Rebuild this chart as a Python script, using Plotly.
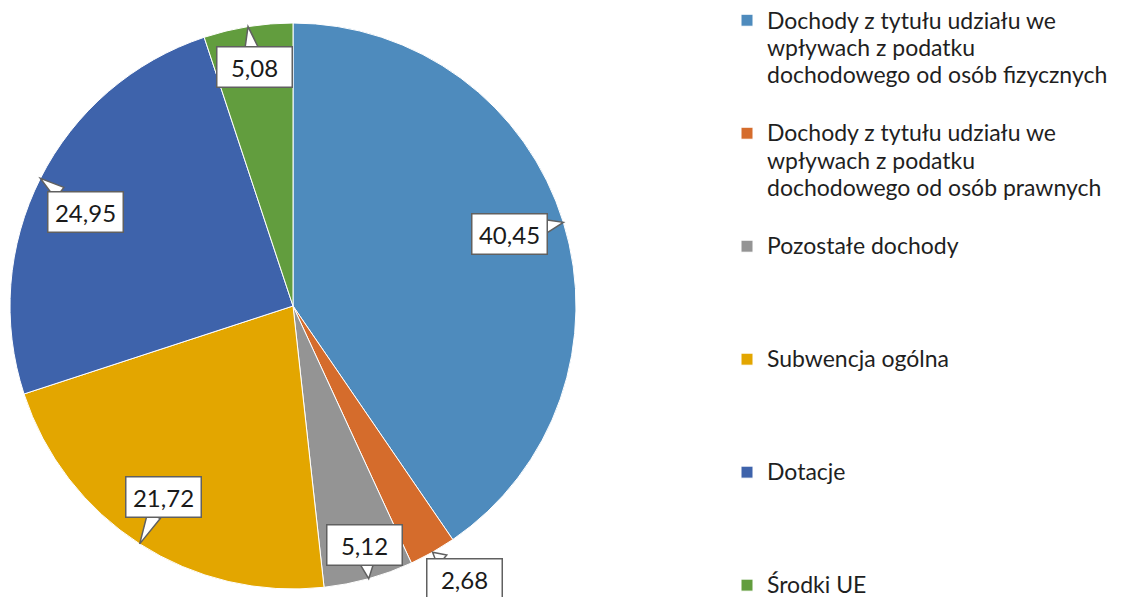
import math
import plotly.graph_objects as go

# ---- data ----
categories = [
    "Dochody z tytułu udziału we<br>wpływach z podatku<br>dochodowego od osób fizycznych",
    "Dochody z tytułu udziału we<br>wpływach z podatku<br>dochodowego od osób prawnych",
    "Pozostałe dochody",
    "Subwencja ogólna",
    "Dotacje",
    "Środki UE",
]
values = [40.45, 2.68, 5.12, 21.72, 24.95, 5.08]
value_labels = ["40,45", "2,68", "5,12", "21,72", "24,95", "5,08"]

# ---- style ----
colors = ["#4E8BBD", "#D56C2C", "#949494", "#E3A600", "#3E63AB", "#629D3E"]
label_radius = [0.806, 1.141, 0.883, 0.816, 0.806, 0.855]  # callout box distance (fraction of radius)
label_angle_shift = [-1.2, -2.6, -1.2, 1.4, -2.5, 0.0]     # degrees, callout box offset from mid-angle

W, H = 1133, 597
cx, cy, R = 293, 306, 283  # pie centre / radius in pixels
BOX_HW, BOX_HH = 38.5, 21  # half size of callout boxes (px)
TAIL_HALF = 7              # half width of callout tail base (px)
FONT = "Lato"


def to_paper(px, py):
    return px / W, 1 - py / H


# pad legend entries to 4 lines so that entries are evenly spaced (last one needs no padding)
legend_names = []
for i, c in enumerate(categories):
    n = c.count("<br>") + 1
    pad = 0 if i == len(categories) - 1 else 4 - n
    legend_names.append('<span style="font-size:23px">' + c + "</span>" + "<br> " * pad)

fig = go.Figure()
fig.add_trace(go.Pie(
    labels=legend_names,
    values=values,
    sort=False,
    direction="clockwise",
    rotation=0,
    textinfo="none",
    marker=dict(colors=colors, line=dict(color="white", width=1)),
    domain=dict(x=[(cx - R) / W, (cx + R) / W], y=[1 - (cy + R) / H, 1 - (cy - R) / H]),
    hovertemplate="%{value}<extra></extra>",
))

# callout labels, positioned from the slice mid-angles
total = sum(values)
cum = 0.0
annotations = []
shapes = []
for v, txt, rb, da in zip(values, value_labels, label_radius, label_angle_shift):
    mid = (cum + v / 2) / total * 2 * math.pi
    cum += v
    tipx = cx + R * math.sin(mid)
    tipy = cy - R * math.cos(mid)
    ang = mid + math.radians(da)
    bx = cx + rb * R * math.sin(ang)
    by = cy - rb * R * math.cos(ang)

    # tail triangle from the box towards the slice edge
    dx, dy = tipx - bx, tipy - by
    d = math.hypot(dx, dy)
    ux, uy = dx / d, dy / d
    t_edge = min(BOX_HW / abs(ux) if ux else 1e9, BOX_HH / abs(uy) if uy else 1e9) - 3
    px_, py_ = -uy, ux
    b1 = (bx + ux * t_edge + px_ * TAIL_HALF, by + uy * t_edge + py_ * TAIL_HALF)
    b2 = (bx + ux * t_edge - px_ * TAIL_HALF, by + uy * t_edge - py_ * TAIL_HALF)
    pts = [to_paper(*b1), to_paper(tipx, tipy), to_paper(*b2)]
    path = "M {:.5f},{:.5f} L {:.5f},{:.5f} L {:.5f},{:.5f} Z".format(*pts[0], *pts[1], *pts[2])
    shapes.append(dict(type="path", path=path, xref="paper", yref="paper",
                       fillcolor="white", line=dict(color="#606060", width=1.5), layer="above"))

    ax_, ay_ = to_paper(bx, by)
    annotations.append(dict(
        x=ax_, y=ay_, xref="paper", yref="paper", xanchor="center", yanchor="middle",
        text=txt, showarrow=False,
        font=dict(family=FONT, size=24, color="#1a1a1a"),
        bgcolor="white", bordercolor="#606060", borderwidth=1.5,
        width=66, height=31, borderpad=4,
    ))

fig.update_layout(
    width=W, height=H,
    margin=dict(l=0, r=0, t=0, b=0),
    paper_bgcolor="white",
    plot_bgcolor="white",
    annotations=annotations,
    shapes=shapes,
    showlegend=True,
    legend=dict(
        x=727 / W, xanchor="left", y=1 - 4 / H, yanchor="top",
        valign="top",
        maxheight=700,
        font=dict(family=FONT, size=21.15, color="#1f1f1f"),
        bgcolor="rgba(0,0,0,0)",
        traceorder="normal",
    ),
)

fig.write_html(
    "out.html",
    config={"displayModeBar": False},
    post_script="document.body.style.margin='0';document.body.style.overflow='hidden';",
)
